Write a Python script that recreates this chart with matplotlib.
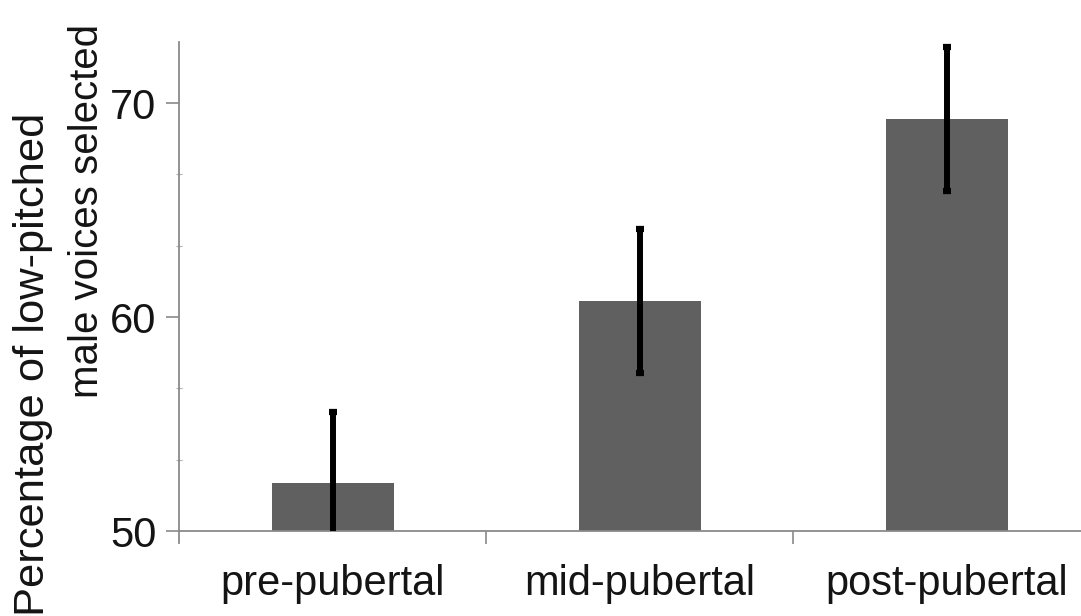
import numpy as np
import matplotlib
matplotlib.use("Agg")
import matplotlib.pyplot as plt
from matplotlib.patches import Rectangle
from matplotlib.ticker import MultipleLocator, FixedLocator

# =====================================================
# DATA
# =====================================================

groups = ["pre-pubertal", "mid-pubertal", "post-pubertal"]
pct_low = [52.24, 60.75, 69.25]
sem = [3.32, 3.36, 3.35]

y_major = [50, 60, 70]

# =====================================================
# STYLE
# =====================================================

plt.rcParams["font.family"] = ["Liberation Sans", "DejaVu Sans"]

BAR = "#606060"
AXIS = "#8a8a8a"
TXT = "#141414"

fig = plt.figure(figsize=(10.81, 6.16), dpi=100)
ax = fig.add_axes([0.166, 0.1185, 0.852, 0.8133])

x = np.arange(len(groups))

ax.bar(
    x,
    np.array(pct_low) - 50,
    bottom=50,
    width=0.4,
    color=BAR,
    zorder=2
)

eb = ax.errorbar(
    x,
    pct_low,
    yerr=sem,
    fmt="none",
    ecolor="black",
    elinewidth=4.3,
    capsize=2.8,
    capthick=4.5,
    zorder=3
)

# hide the part of the error bars below the baseline
clip = Rectangle((-0.5, 50), 3, 40, transform=ax.transData)
for art in list(eb.lines[1]) + list(eb.lines[2]):
    art.set_clip_path(clip)

ax.set_xlim(-0.5, 2.5)
ax.set_ylim(49.44, 72.85)

# =====================================================
# AXES
# =====================================================

for s in ["top", "right"]:
    ax.spines[s].set_visible(False)

ax.spines["left"].set_color(AXIS)
ax.spines["bottom"].set_color(AXIS)
ax.spines["left"].set_linewidth(1.3)
ax.spines["bottom"].set_linewidth(1.3)
ax.spines["bottom"].set_position(("data", 50))

ax.set_yticks(y_major)
ax.yaxis.set_minor_locator(MultipleLocator(10 / 3))
ax.tick_params(
    axis="y",
    which="major",
    direction="out",
    length=9.5,
    width=1.2,
    color=AXIS,
    pad=7,
    labelsize=30,
    labelcolor=TXT
)
ax.tick_params(
    axis="y",
    which="minor",
    direction="inout",
    length=4,
    width=0.8,
    color="#b0b0b0"
)

ax.set_xticks(x)
ax.set_xticklabels(groups)
ax.xaxis.set_minor_locator(FixedLocator([0.5, 1.5]))
ax.tick_params(
    axis="x",
    which="major",
    length=0,
    pad=24,
    labelsize=30,
    labelcolor=TXT
)
ax.tick_params(
    axis="x",
    which="minor",
    direction="out",
    length=9,
    width=1.2,
    color=AXIS
)

# =====================================================
# Y LABEL (two lines, placed separately)
# =====================================================

fig.text(
    44 / 1081, 1 - 364 / 616,
    "Percentage of low-pitched",
    rotation=90,
    rotation_mode="anchor",
    ha="center",
    va="baseline",
    fontsize=31.3,
    color=TXT
)

fig.text(
    98 / 1081, 1 - 211 / 616,
    "male voices selected",
    rotation=90,
    rotation_mode="anchor",
    ha="center",
    va="baseline",
    fontsize=29,
    color=TXT
)

fig.savefig("out.png", dpi=100)
